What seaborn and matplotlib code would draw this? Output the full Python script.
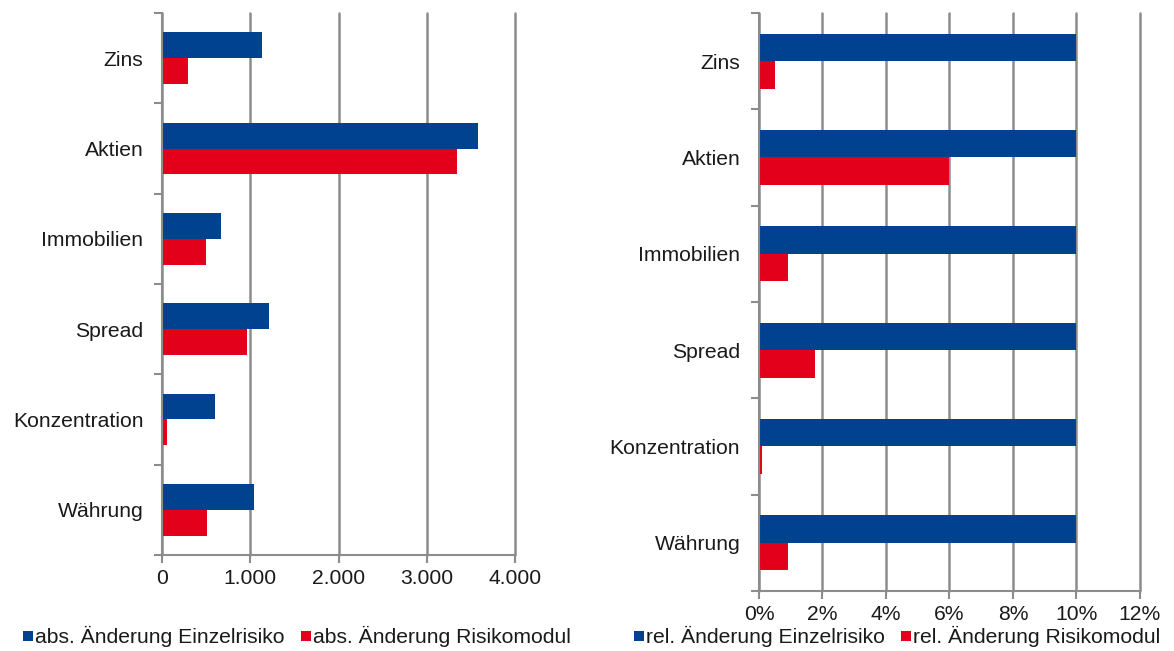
import matplotlib
matplotlib.use("Agg")
import matplotlib.pyplot as plt
from matplotlib.lines import Line2D
from matplotlib.ticker import FuncFormatter, FixedLocator
import seaborn as sns
import pandas as pd

# Risk categories and the two change measures per chart
categories = ["Zins", "Aktien", "Immobilien", "Spread", "Konzentration", "Währung"]
abs_einzelrisiko = [1130, 3580, 670, 1210, 600, 1040]
abs_risikomodul = [290, 3340, 500, 960, 60, 510]
rel_einzelrisiko = [0.10, 0.10, 0.10, 0.10, 0.10, 0.10]
rel_risikomodul = [0.005, 0.06, 0.009, 0.0175, 0.001, 0.009]

abs_labels = ["abs. Änderung Einzelrisiko", "abs. Änderung Risikomodul"]
rel_labels = ["rel. Änderung Einzelrisiko", "rel. Änderung Risikomodul"]
abs_ticks = [0, 1000, 2000, 3000, 4000]
rel_ticks = [0, 0.02, 0.04, 0.06, 0.08, 0.10, 0.12]

BLUE = "#00428F"
RED = "#E2001A"
GRID = "#8C8C8C"
TEXT = "#1a1a1a"
FS = 15.2

sns.set_theme(style="white")
plt.rcParams["font.family"] = ["Liberation Sans", "DejaVu Sans"]

fig = plt.figure(figsize=(11.74, 6.51), dpi=100)
ax_abs = fig.add_axes([0.138, 0.1475, 0.3007, 0.8325])
ax_rel = fig.add_axes([0.6465, 0.0922, 0.3245, 0.888])


def long_table(values_a, values_b, labels):
    return pd.DataFrame({
        "Kategorie": categories * 2,
        "Wert": list(values_a) + list(values_b),
        "Serie": [labels[0]] * len(categories) + [labels[1]] * len(categories),
    })


def style_axis(ax, ticks, fmt):
    ax.set_xlim(ticks[0], ticks[-1])
    ax.set_ylim(len(categories) - 0.5, -0.5)
    ax.xaxis.set_major_locator(FixedLocator(ticks))
    ax.xaxis.set_major_formatter(FuncFormatter(fmt))
    ax.grid(axis="x", color=GRID, linewidth=1.8)
    ax.grid(axis="y", visible=False)
    for line in ax.xaxis.get_gridlines():
        line.set_clip_on(False)
    ax.set_axisbelow(True)
    for side in ("top", "right"):
        ax.spines[side].set_visible(False)
    for side in ("left", "bottom"):
        ax.spines[side].set_color(GRID)
        ax.spines[side].set_linewidth(1.5)
    ax.set_xlabel("")
    ax.set_ylabel("")
    ax.tick_params(axis="x", which="major", direction="out", length=6, width=1.5,
                   color=GRID, labelsize=FS, labelcolor=TEXT, pad=4, bottom=True)
    ax.tick_params(axis="y", which="major", length=0, labelsize=FS,
                   labelcolor=TEXT, pad=13.5, left=True)
    ax.yaxis.set_minor_locator(FixedLocator([i - 0.5 for i in range(len(categories) + 1)]))
    ax.tick_params(axis="y", which="minor", direction="out", length=6, width=1.5,
                   color=GRID, left=True)


def thousands(v, _):
    return f"{int(round(v)):,}".replace(",", ".")


def percent(v, _):
    return f"{v * 100:.0f}%"


for ax, a, b, labels in ((ax_abs, abs_einzelrisiko, abs_risikomodul, abs_labels),
                         (ax_rel, rel_einzelrisiko, rel_risikomodul, rel_labels)):
    sns.barplot(data=long_table(a, b, labels), x="Wert", y="Kategorie", hue="Serie",
                palette=[BLUE, RED], orient="h", width=0.57, errorbar=None,
                saturation=1, linewidth=0, ax=ax, legend=False)

style_axis(ax_abs, abs_ticks, thousands)
style_axis(ax_rel, rel_ticks, percent)


def legend_handles(labels):
    return [Line2D([], [], linestyle="none", marker="s", markersize=7,
                   markerfacecolor=c, markeredgewidth=0, label=l)
            for c, l in zip((BLUE, RED), labels)]


for labels, cx in ((abs_labels, 0.253), (rel_labels, 0.764)):
    leg = fig.legend(handles=legend_handles(labels), loc="center", bbox_to_anchor=(cx, 0.022),
                     ncol=2, frameon=False, fontsize=FS, handletextpad=0.1,
                     columnspacing=0.75, handlelength=0.5, borderpad=0.1)
    for t in leg.get_texts():
        t.set_color(TEXT)

fig.savefig("out.png", dpi=100, facecolor="white")
